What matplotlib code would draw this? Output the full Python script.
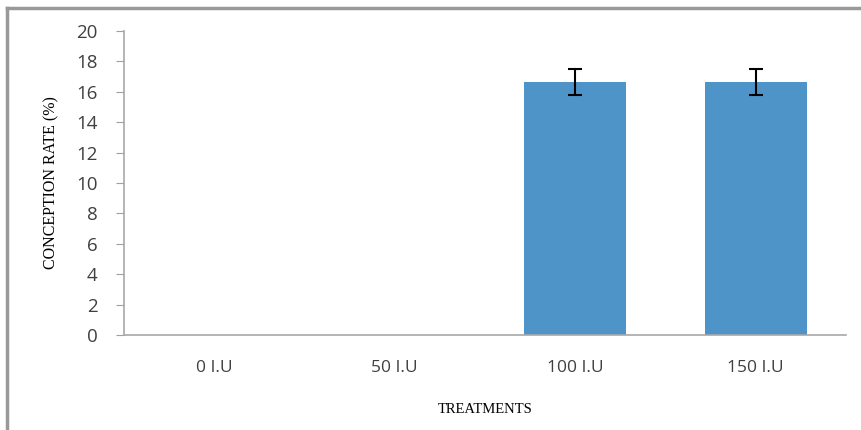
import matplotlib.pyplot as plt
import numpy as np

treatments = ['0 I.U', '50 I.U', '100 I.U', '150 I.U']
conception_rate = [0, 0, 16.67, 16.67]
errors = [0, 0, 0.85, 0.85]

fig = plt.figure(figsize=(8.62, 4.30), dpi=100)
ax = fig.add_axes([124/862, 1-335/430, 722/862, 304/430])

x = np.arange(len(treatments))
err = [e if v > 0 else np.nan for v, e in zip(conception_rate, errors)]
ax.bar(x, conception_rate, width=0.567, color='#4f94c9')
ax.errorbar(x, conception_rate, yerr=err, fmt='none', ecolor='black',
            elinewidth=1.5, capsize=5, capthick=1.5)

ax.set_xlim(-0.5, len(treatments) - 0.5)
ax.set_ylim(0, 20)
ax.set_yticks(range(0, 21, 2))
ax.set_xticks(x)
ax.set_xticklabels(treatments)
ax.tick_params(axis='x', length=0, pad=18, labelsize=12.5, labelcolor='#404040')
ax.tick_params(axis='y', length=6, color='#a0a0a0', labelsize=13.5, labelcolor='#404040', pad=13)
for lab in ax.get_xticklabels() + ax.get_yticklabels():
    lab.set_family('Open Sans')

for s in ['top', 'right']:
    ax.spines[s].set_visible(False)
for s in ['left', 'bottom']:
    ax.spines[s].set_color('#a8a8a8')
    ax.spines[s].set_linewidth(1.2)

ax.set_ylabel('CONCEPTION RATE (%)', family='Liberation Serif', fontsize=11.5)
ax.set_xlabel('TREATMENTS', family='Liberation Serif', fontsize=10.5)
ax.yaxis.set_label_coords(-0.09, 0.5)
ax.xaxis.set_label_coords(0.5, -0.224)

# figure border (top and left only, as in original)
fig.add_artist(plt.Line2D([7/862, 1], [1-8/430, 1-8/430], color='#999999', lw=2.5))
fig.add_artist(plt.Line2D([7/862, 7/862], [0, 1-8/430], color='#999999', lw=2.5))

fig.savefig('out.png', dpi=100)
